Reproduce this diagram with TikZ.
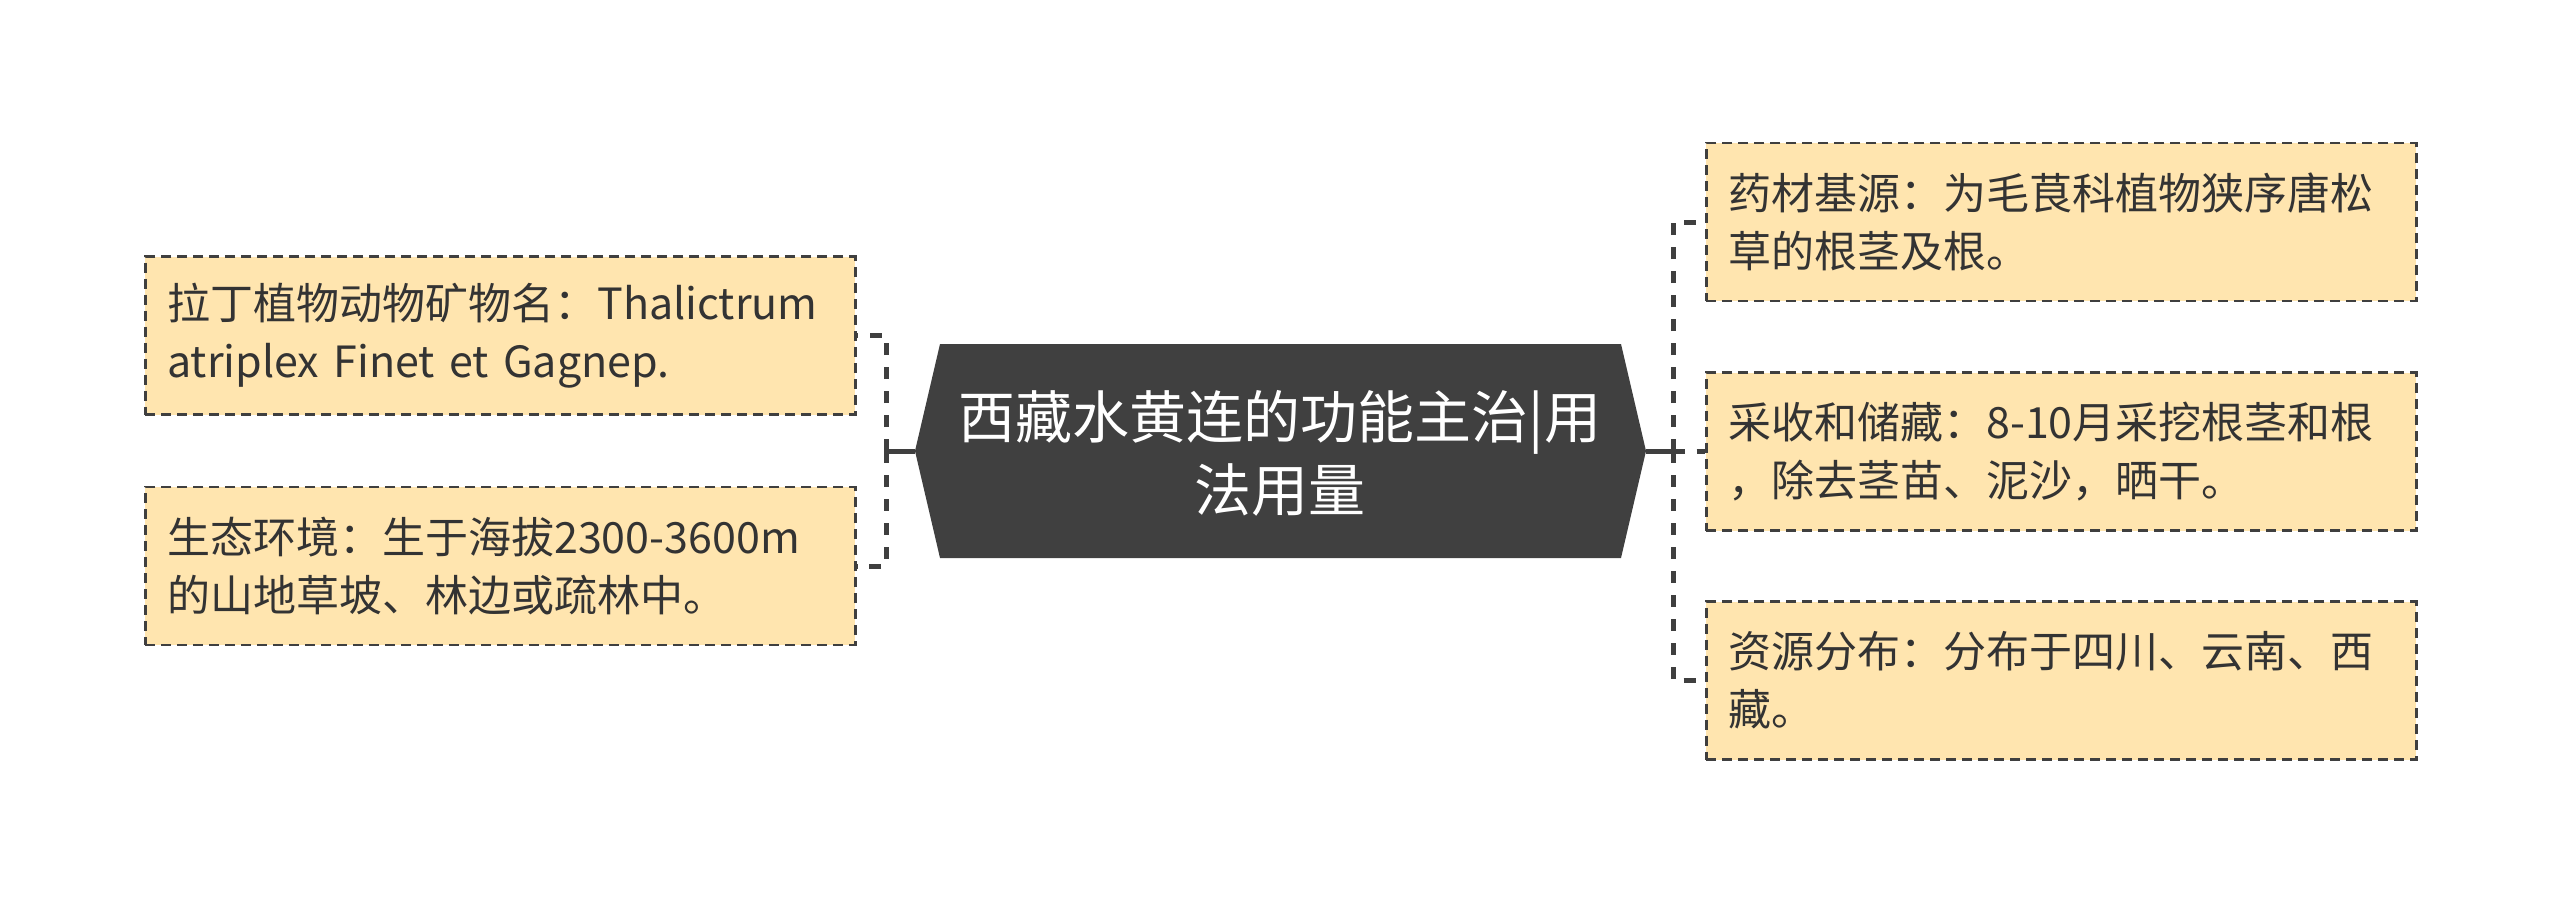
\documentclass[tikz,border=0pt]{standalone}
\usepackage{fontspec}
\setmainfont{Noto Sans CJK SC}
\definecolor{boxfill}{HTML}{FFE5AF}
\definecolor{linec}{HTML}{3F3F3F}
\definecolor{textc}{HTML}{333333}
\definecolor{centerfill}{HTML}{404040}
\begin{document}
\begin{tikzpicture}[x=1pt,y=-1pt,
  leaf/.style={draw=linec, line width=2.5pt, dash pattern=on 10pt off 6pt, fill=boxfill, text=textc,
    minimum width=710pt, minimum height=158pt, text width=666pt, inner xsep=22pt, inner ysep=0pt,
    align=left, font=\fontsize{43}{58}\selectfont},
  conn/.style={draw=linec, line width=5pt, dash pattern=on 12pt off 12pt},
  trunk/.style={draw=linec, line width=5pt},
  centertext/.style={text=white, align=center, inner sep=0pt, font=\fontsize{57}{73}\selectfont}
]
\useasboundingbox (0,0) rectangle (2560,903);
% centre
\fill[centerfill] (915,451) -- (940,344) -- (1621,344) -- (1646,451) -- (1621,558) -- (940,558) -- cycle;
\node[centertext] (c) at (1280,453) {西藏水黄连的功能主治|用\\法用量};
\coordinate (cl) at (915,451);
\coordinate (cr) at (1646,451);
\coordinate (lb) at (886,451);
\coordinate (rb) at (1673,451);
% left leaves
\node[leaf, anchor=west] (L1) at (144,335.5) {拉丁植物动物矿物名：Thalictrum\\atriplex Finet et Gagnep.};
\node[leaf, anchor=west] (L2) at (144,566) {生态环境：生于海拔2300-3600m\\的山地草坡、林边或疏林中。};
% right leaves
\node[leaf, anchor=west] (R1) at (1705,222) {药材基源：为毛茛科植物狭序唐松\\草的根茎及根。};
\node[leaf, anchor=west] (R2) at (1705,451.5) {采收和储藏：8-10月采挖根茎和根\\，除去茎苗、泥沙，晒干。};
\node[leaf, anchor=west] (R3) at (1705,680.5) {资源分布：分布于四川、云南、西\\藏。};
% connectors
\draw[trunk] (cl) -- (lb);
\draw[conn] (lb) |- (L1.east);
\draw[conn] (lb) |- (L2.east);
\draw[trunk] (cr) -- ([xshift=12pt]rb);
\draw[conn] (rb) |- (R1.west);
\draw[conn] (rb) |- (R2.west);
\draw[conn] (rb) |- (R3.west);
\end{tikzpicture}
\end{document}
